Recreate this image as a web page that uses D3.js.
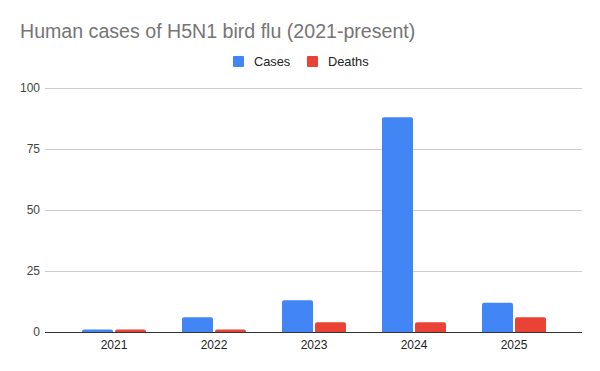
<!DOCTYPE html>
<html>
<head>
<meta charset="utf-8">
<script src="https://cdn.jsdelivr.net/npm/d3@7"></script>
<style>
  body { margin: 0; background: #fff; }
  svg { display: block; font-family: "Liberation Sans", Arial, sans-serif; }
</style>
</head>
<body>
<svg id="chart"></svg>
<script>
// data
const years = ["2021", "2022", "2023", "2024", "2025"];
const cases = [1, 6, 13, 88, 12];
const deaths = [1, 1, 4, 4, 6];
const seriesNames = ["Cases", "Deaths"];
const yTicks = [0, 25, 50, 75, 100];

const width = 600;
const height = 371;
const colors = { Cases: "#4285F4", Deaths: "#EA4335" };

const svg = d3.select("#chart").attr("width", width).attr("height", height);

// plot frame
const gridLeft = 45, gridRight = 582;
const yScale = d3.scaleLinear().domain([0, 100]).range([332, 88]);

const xScale = d3.scaleBand()
  .domain(years)
  .range([64, 564])
  .paddingInner(0.36)
  .paddingOuter(0.18);

const subScale = d3.scaleBand()
  .domain(seriesNames)
  .range([0, xScale.bandwidth()])
  .paddingInner(2 / 33);

// title
svg.append("text")
  .attr("x", 20)
  .attr("y", 38)
  .attr("font-size", "19.6px")
  .attr("fill", "#757575")
  .text("Human cases of H5N1 bird flu (2021-present)");

// legend
const legend = svg.append("g");
const legendItems = [
  { name: "Cases", x: 233 },
  { name: "Deaths", x: 307 },
];
legendItems.forEach((d) => {
  legend.append("rect")
    .attr("x", d.x)
    .attr("y", 56)
    .attr("width", 11)
    .attr("height", 11)
    .attr("rx", 1)
    .attr("fill", colors[d.name]);
  legend.append("text")
    .attr("x", d.x + 21)
    .attr("y", 66)
    .attr("font-size", "12.8px")
    .attr("fill", "#222")
    .text(d.name);
});

// gridlines + y labels
const yAxis = svg.append("g");
yTicks.forEach((t) => {
  yAxis.append("line")
    .attr("x1", gridLeft)
    .attr("x2", gridRight)
    .attr("y1", Math.round(yScale(t)) + 0.5)
    .attr("y2", Math.round(yScale(t)) + 0.5)
    .attr("stroke", t === 0 ? "#333" : "#ccc")
    .attr("stroke-width", 1);
  yAxis.append("text")
    .attr("x", 40)
    .attr("y", yScale(t) + 4)
    .attr("text-anchor", "end")
    .attr("font-size", "12px")
    .attr("fill", "#444")
    .text(t);
});

// bars
const rows = years.map((y, i) => ({ year: y, Cases: cases[i], Deaths: deaths[i] }));

// path with slightly rounded top corners
function barPath(x, y, w, h, r) {
  r = Math.min(r, h, w / 2);
  return `M${x},${y + h}V${y + r}Q${x},${y} ${x + r},${y}H${x + w - r}Q${x + w},${y} ${x + w},${y + r}V${y + h}Z`;
}

const groups = svg.append("g")
  .selectAll("g")
  .data(rows)
  .join("g")
  .attr("transform", (d) => `translate(${xScale(d.year)},0)`);

groups.selectAll("path")
  .data((d) => seriesNames.map((s) => ({ key: s, value: d[s] })))
  .join("path")
  .attr("d", (d) => {
    const y = yScale(d.value);
    return barPath(subScale(d.key), y, subScale.bandwidth(), yScale(0) - y, 2);
  })
  .attr("fill", (d) => colors[d.key]);

// redraw baseline over bars
svg.append("line")
  .attr("x1", gridLeft)
  .attr("x2", gridRight)
  .attr("y1", 332.5)
  .attr("y2", 332.5)
  .attr("stroke", "#333");

// x labels
svg.append("g")
  .selectAll("text")
  .data(years)
  .join("text")
  .attr("x", (d) => xScale(d) + xScale.bandwidth() / 2)
  .attr("y", 349)
  .attr("text-anchor", "middle")
  .attr("font-size", "12px")
  .attr("fill", "#222")
  .text((d) => d);
</script>
</body>
</html>
